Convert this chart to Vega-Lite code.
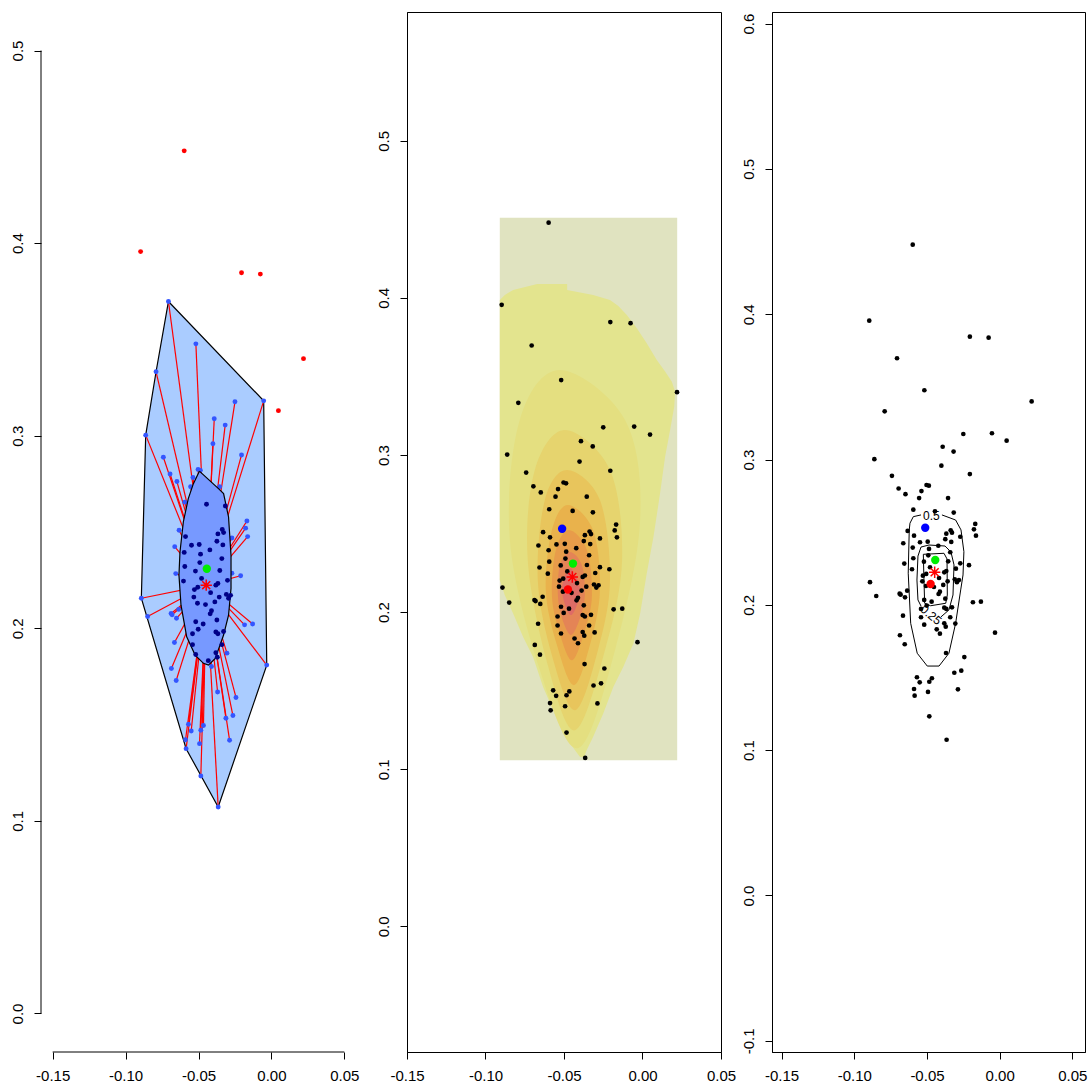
{
  "$schema": "https://vega.github.io/schema/vega-lite/v6.json",
  "padding": {"left": 10, "top": 11, "right": 0, "bottom": 0},
  "bounds": "flush",
  "spacing": 51,
  "config": {
    "font": "Liberation Sans",
    "view": {"stroke": "black", "strokeWidth": 1},
    "axis": {"grid": false, "title": null, "labelFont": "Liberation Sans Narrow, Liberation Sans", "labelFontSize": 15, "labelColor": "black", "tickColor": "black", "domainColor": "black", "tickSize": 7, "labelPadding": 9, "labelOverlap": false, "labelFlush": false}
  },
  "datasets": {
    "pts": [
      {"x": -0.0598, "y": 0.4479, "g": "o"}, {"x": -0.0897, "y": 0.3956, "g": "o"}, {"x": -0.0205, "y": 0.3846, "g": "o"}, {"x": -0.0076, "y": 0.3839, "g": "o"}, {"x": 0.0220, "y": 0.3400, "g": "o"}, {"x": 0.0048, "y": 0.3130, "g": "o"},
      {"x": -0.0706, "y": 0.3697, "g": "l"}, {"x": -0.0518, "y": 0.3477, "g": "l"}, {"x": -0.0791, "y": 0.3332, "g": "l"}, {"x": -0.0250, "y": 0.3176, "g": "l"}, {"x": -0.0053, "y": 0.3181, "g": "l"}, {"x": -0.0392, "y": 0.3088, "g": "l"},
      {"x": -0.0317, "y": 0.3055, "g": "l"}, {"x": -0.0862, "y": 0.3003, "g": "l"}, {"x": -0.0401, "y": 0.2958, "g": "l"}, {"x": -0.0205, "y": 0.2900, "g": "l"}, {"x": -0.0741, "y": 0.2888, "g": "l"}, {"x": -0.0695, "y": 0.2801, "g": "l"},
      {"x": -0.0503, "y": 0.2825, "g": "l"}, {"x": -0.0487, "y": 0.2820, "g": "l"}, {"x": -0.0648, "y": 0.2762, "g": "l"}, {"x": -0.0538, "y": 0.2783, "g": "l"}, {"x": -0.0554, "y": 0.2735, "g": "l"}, {"x": -0.0355, "y": 0.2735, "g": "l"},
      {"x": -0.0594, "y": 0.2655, "g": "l"}, {"x": -0.0168, "y": 0.2557, "g": "l"}, {"x": -0.0633, "y": 0.2509, "g": "l"}, {"x": -0.0177, "y": 0.2520, "g": "l"}, {"x": -0.0271, "y": 0.2469, "g": "l"}, {"x": -0.0163, "y": 0.2476, "g": "l"},
      {"x": -0.0663, "y": 0.2424, "g": "l"}, {"x": -0.0656, "y": 0.2284, "g": "l"}, {"x": -0.0271, "y": 0.2286, "g": "l"}, {"x": -0.0211, "y": 0.2273, "g": "l"}, {"x": -0.0892, "y": 0.2156, "g": "l"}, {"x": -0.0688, "y": 0.2077, "g": "l"},
      {"x": -0.0681, "y": 0.2070, "g": "l"}, {"x": -0.0636, "y": 0.2098, "g": "l"}, {"x": -0.0849, "y": 0.2061, "g": "l"}, {"x": -0.0651, "y": 0.2052, "g": "l"}, {"x": -0.0184, "y": 0.2018, "g": "l"}, {"x": -0.0129, "y": 0.2022, "g": "l"},
      {"x": -0.0665, "y": 0.1926, "g": "l"}, {"x": -0.0305, "y": 0.1871, "g": "l"}, {"x": -0.0686, "y": 0.1791, "g": "l"}, {"x": -0.0411, "y": 0.1802, "g": "l"}, {"x": -0.0032, "y": 0.1809, "g": "l"}, {"x": -0.0653, "y": 0.1729, "g": "l"},
      {"x": -0.0369, "y": 0.1669, "g": "l"}, {"x": -0.0243, "y": 0.1641, "g": "l"}, {"x": -0.0569, "y": 0.1502, "g": "l"}, {"x": -0.0550, "y": 0.1467, "g": "l"}, {"x": -0.0484, "y": 0.1471, "g": "l"}, {"x": -0.0466, "y": 0.1495, "g": "l"},
      {"x": -0.0312, "y": 0.1533, "g": "l"}, {"x": -0.0264, "y": 0.1547, "g": "l"}, {"x": -0.0589, "y": 0.1421, "g": "l"}, {"x": -0.0493, "y": 0.1401, "g": "l"}, {"x": -0.0287, "y": 0.1419, "g": "l"}, {"x": -0.0585, "y": 0.1375, "g": "l"},
      {"x": -0.0484, "y": 0.1233, "g": "l"}, {"x": -0.0365, "y": 0.1072, "g": "l"},
      {"x": -0.0445, "y": 0.2644, "g": "b"}, {"x": -0.0316, "y": 0.2635, "g": "b"}, {"x": -0.0337, "y": 0.2513, "g": "b"}, {"x": -0.0328, "y": 0.2497, "g": "b"}, {"x": -0.0367, "y": 0.2490, "g": "b"}, {"x": -0.0589, "y": 0.2476, "g": "b"},
      {"x": -0.0374, "y": 0.2452, "g": "b"}, {"x": -0.0333, "y": 0.2433, "g": "b"}, {"x": -0.0548, "y": 0.2431, "g": "b"}, {"x": -0.0495, "y": 0.2435, "g": "b"}, {"x": -0.0422, "y": 0.2407, "g": "b"}, {"x": -0.0598, "y": 0.2394, "g": "b"},
      {"x": -0.0486, "y": 0.2385, "g": "b"}, {"x": -0.0340, "y": 0.2362, "g": "b"}, {"x": -0.0491, "y": 0.2341, "g": "b"}, {"x": -0.0521, "y": 0.2297, "g": "b"}, {"x": -0.0354, "y": 0.2300, "g": "b"}, {"x": -0.0594, "y": 0.2321, "g": "b"},
      {"x": -0.0479, "y": 0.2259, "g": "b"}, {"x": -0.0603, "y": 0.2245, "g": "b"}, {"x": -0.0301, "y": 0.2249, "g": "b"}, {"x": -0.0367, "y": 0.2233, "g": "b"}, {"x": -0.0381, "y": 0.2224, "g": "b"}, {"x": -0.0505, "y": 0.2213, "g": "b"},
      {"x": -0.0528, "y": 0.2201, "g": "b"}, {"x": -0.0417, "y": 0.2185, "g": "b"}, {"x": -0.0309, "y": 0.2176, "g": "b"}, {"x": -0.0280, "y": 0.2171, "g": "b"}, {"x": -0.0532, "y": 0.2162, "g": "b"}, {"x": -0.0358, "y": 0.2162, "g": "b"},
      {"x": -0.0294, "y": 0.2156, "g": "b"}, {"x": -0.0507, "y": 0.2130, "g": "b"}, {"x": -0.0388, "y": 0.2137, "g": "b"}, {"x": -0.0452, "y": 0.2123, "g": "b"}, {"x": -0.0411, "y": 0.2091, "g": "b"}, {"x": -0.0420, "y": 0.2075, "g": "b"},
      {"x": -0.0468, "y": 0.2022, "g": "b"}, {"x": -0.0374, "y": 0.2043, "g": "b"}, {"x": -0.0519, "y": 0.2034, "g": "b"}, {"x": -0.0541, "y": 0.1972, "g": "b"}, {"x": -0.0381, "y": 0.1981, "g": "b"}, {"x": -0.0367, "y": 0.1972, "g": "b"},
      {"x": -0.0328, "y": 0.1983, "g": "b"}, {"x": -0.0502, "y": 0.1995, "g": "b"}, {"x": -0.0541, "y": 0.1915, "g": "b"}, {"x": -0.0340, "y": 0.1915, "g": "b"}, {"x": -0.0381, "y": 0.1873, "g": "b"}, {"x": -0.0519, "y": 0.1864, "g": "b"},
      {"x": -0.0371, "y": 0.1850, "g": "b"}, {"x": -0.0433, "y": 0.1832, "g": "b"}
    ],
    "loopPoly": [
      {"i": 0, "x": -0.0706, "y": 0.3697}, {"i": 1, "x": -0.0053, "y": 0.3181}, {"i": 2, "x": -0.0032, "y": 0.1809}, {"i": 3, "x": -0.0365, "y": 0.1072},
      {"i": 4, "x": -0.0585, "y": 0.1375}, {"i": 5, "x": -0.0892, "y": 0.2156}, {"i": 6, "x": -0.0862, "y": 0.3003}, {"i": 7, "x": -0.0791, "y": 0.3332}, {"i": 8, "x": -0.0706, "y": 0.3697}
    ],
    "bagPoly": [
      {"i": 0, "x": -0.0494, "y": 0.2816}, {"i": 1, "x": -0.0363, "y": 0.2725}, {"i": 2, "x": -0.0328, "y": 0.2699}, {"i": 3, "x": -0.0294, "y": 0.2578},
      {"i": 4, "x": -0.0277, "y": 0.2379}, {"i": 5, "x": -0.0277, "y": 0.2207}, {"i": 6, "x": -0.0294, "y": 0.2068}, {"i": 7, "x": -0.0328, "y": 0.1965},
      {"i": 8, "x": -0.0385, "y": 0.1844}, {"i": 9, "x": -0.0432, "y": 0.1809}, {"i": 10, "x": -0.0466, "y": 0.1818}, {"i": 11, "x": -0.0523, "y": 0.1861},
      {"i": 12, "x": -0.0581, "y": 0.1956}, {"i": 13, "x": -0.0620, "y": 0.2120}, {"i": 14, "x": -0.0634, "y": 0.2276}, {"i": 15, "x": -0.0627, "y": 0.2396},
      {"i": 16, "x": -0.0604, "y": 0.2552}, {"i": 17, "x": -0.0570, "y": 0.2673}, {"i": 18, "x": -0.0535, "y": 0.2751}, {"i": 19, "x": -0.0494, "y": 0.2816}
    ],
    "fence": [
      {"i": 0, "x": -0.0909, "y": 0.3987}, {"i": 1, "x": -0.0877, "y": 0.4019}, {"i": 2, "x": -0.0824, "y": 0.4051}, {"i": 3, "x": -0.0671, "y": 0.4089},
      {"i": 4, "x": -0.0480, "y": 0.4089}, {"i": 5, "x": -0.0480, "y": 0.4051}, {"i": 6, "x": -0.0314, "y": 0.4019}, {"i": 7, "x": -0.0207, "y": 0.3987},
      {"i": 8, "x": -0.0154, "y": 0.3949}, {"i": 9, "x": -0.0100, "y": 0.3892}, {"i": 10, "x": -0.0036, "y": 0.3807}, {"i": 11, "x": 0.0027, "y": 0.3711},
      {"i": 12, "x": 0.0091, "y": 0.3605}, {"i": 13, "x": 0.0144, "y": 0.3531}, {"i": 14, "x": 0.0187, "y": 0.3467}, {"i": 15, "x": 0.0208, "y": 0.3403},
      {"i": 16, "x": 0.0202, "y": 0.3308}, {"i": 17, "x": 0.0176, "y": 0.3159}, {"i": 18, "x": 0.0144, "y": 0.2989}, {"i": 19, "x": 0.0112, "y": 0.2756},
      {"i": 20, "x": 0.0070, "y": 0.2480}, {"i": 21, "x": 0.0027, "y": 0.2246}, {"i": 22, "x": -0.0015, "y": 0.1992}, {"i": 23, "x": -0.0058, "y": 0.1801},
      {"i": 24, "x": -0.0122, "y": 0.1652}, {"i": 25, "x": -0.0186, "y": 0.1524}, {"i": 26, "x": -0.0250, "y": 0.1355}, {"i": 27, "x": -0.0314, "y": 0.1206},
      {"i": 28, "x": -0.0356, "y": 0.1121}, {"i": 29, "x": -0.0371, "y": 0.1078}, {"i": 30, "x": -0.0398, "y": 0.1078}, {"i": 31, "x": -0.0430, "y": 0.1121},
      {"i": 32, "x": -0.0505, "y": 0.1227}, {"i": 33, "x": -0.0569, "y": 0.1376}, {"i": 34, "x": -0.0633, "y": 0.1524}, {"i": 35, "x": -0.0697, "y": 0.1715},
      {"i": 36, "x": -0.0761, "y": 0.1843}, {"i": 37, "x": -0.0824, "y": 0.1992}, {"i": 38, "x": -0.0877, "y": 0.2108}, {"i": 39, "x": -0.0909, "y": 0.2204}
    ],
    "bands": [
      {"b": "b1", "i": 0, "x": -0.0526, "y": 0.3541}, {"b": "b1", "i": 1, "x": -0.0111, "y": 0.3223}, {"b": "b1", "i": 2, "x": -0.0015, "y": 0.2586}, {"b": "b1", "i": 3, "x": -0.0175, "y": 0.1758},
      {"b": "b1", "i": 4, "x": -0.0411, "y": 0.1134}, {"b": "b1", "i": 5, "x": -0.0654, "y": 0.1631}, {"b": "b1", "i": 6, "x": -0.0845, "y": 0.2459}, {"b": "b1", "i": 7, "x": -0.0782, "y": 0.3223},
      {"b": "b2", "i": 0, "x": -0.0494, "y": 0.3159}, {"b": "b2", "i": 1, "x": -0.0207, "y": 0.2904}, {"b": "b2", "i": 2, "x": -0.0130, "y": 0.2331}, {"b": "b2", "i": 3, "x": -0.0239, "y": 0.1758},
      {"b": "b2", "i": 4, "x": -0.0430, "y": 0.1248}, {"b": "b2", "i": 5, "x": -0.0603, "y": 0.1662}, {"b": "b2", "i": 6, "x": -0.0731, "y": 0.2331}, {"b": "b2", "i": 7, "x": -0.0686, "y": 0.2904},
      {"b": "b3", "i": 0, "x": -0.0481, "y": 0.2904}, {"b": "b3", "i": 1, "x": -0.0271, "y": 0.2713}, {"b": "b3", "i": 2, "x": -0.0207, "y": 0.2204}, {"b": "b3", "i": 3, "x": -0.0284, "y": 0.1758},
      {"b": "b3", "i": 4, "x": -0.0430, "y": 0.1376}, {"b": "b3", "i": 5, "x": -0.0577, "y": 0.1726}, {"b": "b3", "i": 6, "x": -0.0667, "y": 0.2204}, {"b": "b3", "i": 7, "x": -0.0622, "y": 0.2713},
      {"b": "b4", "i": 0, "x": -0.0475, "y": 0.2682}, {"b": "b4", "i": 1, "x": -0.0315, "y": 0.2522}, {"b": "b4", "i": 2, "x": -0.0271, "y": 0.2140}, {"b": "b4", "i": 3, "x": -0.0335, "y": 0.1790},
      {"b": "b4", "i": 4, "x": -0.0437, "y": 0.1535}, {"b": "b4", "i": 5, "x": -0.0545, "y": 0.1790}, {"b": "b4", "i": 6, "x": -0.0616, "y": 0.2140}, {"b": "b4", "i": 7, "x": -0.0577, "y": 0.2522},
      {"b": "b5", "i": 0, "x": -0.0469, "y": 0.2522}, {"b": "b5", "i": 1, "x": -0.0354, "y": 0.2395}, {"b": "b5", "i": 2, "x": -0.0322, "y": 0.2108}, {"b": "b5", "i": 3, "x": -0.0367, "y": 0.1885},
      {"b": "b5", "i": 4, "x": -0.0450, "y": 0.1694}, {"b": "b5", "i": 5, "x": -0.0533, "y": 0.1885}, {"b": "b5", "i": 6, "x": -0.0577, "y": 0.2108}, {"b": "b5", "i": 7, "x": -0.0552, "y": 0.2395},
      {"b": "b6", "i": 0, "x": -0.0463, "y": 0.2382}, {"b": "b6", "i": 1, "x": -0.0386, "y": 0.2299}, {"b": "b6", "i": 2, "x": -0.0367, "y": 0.2108}, {"b": "b6", "i": 3, "x": -0.0398, "y": 0.1962},
      {"b": "b6", "i": 4, "x": -0.0456, "y": 0.1854}, {"b": "b6", "i": 5, "x": -0.0513, "y": 0.1962}, {"b": "b6", "i": 6, "x": -0.0539, "y": 0.2108}, {"b": "b6", "i": 7, "x": -0.0526, "y": 0.2299},
      {"b": "b7", "i": 0, "x": -0.0463, "y": 0.2280}, {"b": "b7", "i": 1, "x": -0.0398, "y": 0.2140}, {"b": "b7", "i": 2, "x": -0.0456, "y": 0.1981}, {"b": "b7", "i": 3, "x": -0.0513, "y": 0.2140}
    ],
    "contours": [
      {"c": "c1", "i": 0, "x": -0.0397, "y": 0.2619}, {"c": "c1", "i": 1, "x": -0.0303, "y": 0.2584}, {"c": "c1", "i": 2, "x": -0.0266, "y": 0.2516}, {"c": "c1", "i": 3, "x": -0.0246, "y": 0.2366},
      {"c": "c1", "i": 4, "x": -0.0252, "y": 0.2206}, {"c": "c1", "i": 5, "x": -0.0268, "y": 0.2103}, {"c": "c1", "i": 6, "x": -0.0303, "y": 0.1873}, {"c": "c1", "i": 7, "x": -0.0349, "y": 0.1667},
      {"c": "c1", "i": 8, "x": -0.0417, "y": 0.1579}, {"c": "c1", "i": 9, "x": -0.0498, "y": 0.1579}, {"c": "c1", "i": 10, "x": -0.0567, "y": 0.1667}, {"c": "c1", "i": 11, "x": -0.0612, "y": 0.1873},
      {"c": "c1", "i": 12, "x": -0.0629, "y": 0.2218}, {"c": "c1", "i": 13, "x": -0.0622, "y": 0.2515}, {"c": "c1", "i": 14, "x": -0.0617, "y": 0.2562}, {"c": "c1", "i": 15, "x": -0.0594, "y": 0.2607},
      {"c": "c1", "i": 16, "x": -0.0541, "y": 0.2619},
      {"c": "c2", "i": 0, "x": -0.0404, "y": 0.1917}, {"c": "c2", "i": 1, "x": -0.0349, "y": 0.1965}, {"c": "c2", "i": 2, "x": -0.0321, "y": 0.2068}, {"c": "c2", "i": 3, "x": -0.0314, "y": 0.2275},
      {"c": "c2", "i": 4, "x": -0.0335, "y": 0.2364}, {"c": "c2", "i": 5, "x": -0.0376, "y": 0.2405}, {"c": "c2", "i": 6, "x": -0.0486, "y": 0.2412}, {"c": "c2", "i": 7, "x": -0.0541, "y": 0.2398},
      {"c": "c2", "i": 8, "x": -0.0562, "y": 0.2336}, {"c": "c2", "i": 9, "x": -0.0569, "y": 0.2171}, {"c": "c2", "i": 10, "x": -0.0562, "y": 0.2034}, {"c": "c2", "i": 11, "x": -0.0541, "y": 0.1992},
      {"c": "c3", "i": 0, "x": -0.0525, "y": 0.2348}, {"c": "c3", "i": 1, "x": -0.0383, "y": 0.2355}, {"c": "c3", "i": 2, "x": -0.0362, "y": 0.2316}, {"c": "c3", "i": 3, "x": -0.0360, "y": 0.2068},
      {"c": "c3", "i": 4, "x": -0.0371, "y": 0.2011}, {"c": "c3", "i": 5, "x": -0.0475, "y": 0.1994}, {"c": "c3", "i": 6, "x": -0.0516, "y": 0.2011}, {"c": "c3", "i": 7, "x": -0.0521, "y": 0.2183},
      {"c": "c3", "i": 8, "x": -0.0525, "y": 0.2348}
    ],
    "clabels": [
      {"x": -0.0470, "y": 0.2612, "t": "0.5", "a": 0},
      {"x": -0.0473, "y": 0.1930, "t": "0.25", "a": 40}
    ],
    "ctr": [
      {"k": "blue", "x": -0.0512, "y": 0.2531},
      {"k": "green", "x": -0.0443, "y": 0.2309},
      {"k": "reddot", "x": -0.0475, "y": 0.2144},
      {"k": "star", "x": -0.0447, "y": 0.2224}
    ]
  },
  "hconcat": [
    {
      "width": 315,
      "height": 1040,
      "view": {"stroke": null},
      "layer": [
        {
          "data": {"name": "loopPoly"},
          "mark": {"type": "line", "fill": "#aaccff", "stroke": "black", "strokeWidth": 1.2},
          "encoding": {
            "x": {"field": "x", "type": "quantitative", "scale": {"domain": [-0.158, 0.058], "nice": false, "zero": false}, "axis": {"domain": false, "values": [-0.15, -0.1, -0.05, 0, 0.05], "labelExpr": "replace(format(datum.value, '.2f'), '\u2212', '-')"}},
            "y": {"field": "y", "type": "quantitative", "scale": {"domain": [-0.02, 0.52], "nice": false, "zero": false}, "axis": {"domain": false, "values": [0, 0.1, 0.2, 0.3, 0.4, 0.5], "format": ".1f", "labelAngle": -90, "labelAlign": "center", "labelBaseline": "bottom"}},
            "order": {"field": "i", "type": "quantitative"}
          }
        },
        {
          "data": {"name": "pts"},
          "transform": [{"filter": "datum.g == 'l'"}],
          "mark": {"type": "rule", "color": "red", "strokeWidth": 1.2},
          "encoding": {
            "x": {"field": "x", "type": "quantitative"},
            "y": {"field": "y", "type": "quantitative"},
            "x2": {"datum": -0.0447},
            "y2": {"datum": 0.2224}
          }
        },
        {
          "data": {"name": "pts"},
          "transform": [{"filter": "datum.g == 'l'"}],
          "mark": {"type": "point", "filled": true, "color": "#3355ff", "opacity": 1, "size": 24},
          "encoding": {"x": {"field": "x", "type": "quantitative"}, "y": {"field": "y", "type": "quantitative"}}
        },
        {
          "data": {"name": "bagPoly"},
          "mark": {"type": "line", "fill": "#7799ff", "stroke": "black", "strokeWidth": 1.2},
          "encoding": {"x": {"field": "x", "type": "quantitative"}, "y": {"field": "y", "type": "quantitative"}, "order": {"field": "i", "type": "quantitative"}}
        },
        {
          "data": {"name": "pts"},
          "transform": [{"filter": "datum.g == 'b'"}],
          "mark": {"type": "point", "filled": true, "color": "#000088", "opacity": 1, "size": 24},
          "encoding": {"x": {"field": "x", "type": "quantitative"}, "y": {"field": "y", "type": "quantitative"}}
        },
        {
          "data": {"name": "pts"},
          "transform": [{"filter": "datum.g == 'o'"}],
          "mark": {"type": "point", "filled": true, "color": "red", "opacity": 1, "size": 24},
          "encoding": {"x": {"field": "x", "type": "quantitative"}, "y": {"field": "y", "type": "quantitative"}}
        },
        {
          "data": {"name": "ctr"},
          "transform": [{"filter": "datum.k == 'green'"}],
          "mark": {"type": "point", "filled": true, "color": "#00ee00", "opacity": 1, "size": 70},
          "encoding": {"x": {"field": "x", "type": "quantitative"}, "y": {"field": "y", "type": "quantitative"}}
        },
        {
          "data": {"name": "ctr"},
          "transform": [{"filter": "datum.k == 'star'"}],
          "mark": {"type": "point", "filled": false, "shape": "M-1,0L1,0M0,-1L0,1M-0.7,-0.7L0.7,0.7M-0.7,0.7L0.7,-0.7", "color": "red", "opacity": 1, "size": 130, "strokeWidth": 1.5},
          "encoding": {"x": {"field": "x", "type": "quantitative"}, "y": {"field": "y", "type": "quantitative"}}
        },
        {
          "data": {"values": [{}]},
          "mark": {"type": "rule", "color": "black", "strokeWidth": 1},
          "encoding": {"x": {"datum": -0.15}, "x2": {"datum": 0.05}, "y": {"datum": -0.02}}
        },
        {
          "data": {"values": [{}]},
          "mark": {"type": "rule", "color": "black", "strokeWidth": 1},
          "encoding": {"y": {"datum": 0}, "y2": {"datum": 0.5}, "x": {"datum": -0.158}}
        }
      ]
    },
    {
      "width": 314,
      "height": 1040,
      "layer": [
        {
          "data": {"values": [{"x1": -0.0909, "x2": 0.0221, "y1": 0.1057, "y2": 0.4510}]},
          "mark": {"type": "rect", "color": "#e0e3c0"},
          "encoding": {
            "x": {"field": "x1", "type": "quantitative", "scale": {"domain": [-0.15, 0.05], "nice": false, "zero": false}, "axis": {"values": [-0.15, -0.1, -0.05, 0, 0.05], "labelExpr": "replace(format(datum.value, '.2f'), '\u2212', '-')"}},
            "x2": {"field": "x2"},
            "y": {"field": "y1", "type": "quantitative", "scale": {"domain": [-0.080, 0.582], "nice": false, "zero": false}, "axis": {"values": [0, 0.1, 0.2, 0.3, 0.4, 0.5], "format": ".1f", "labelAngle": -90, "labelAlign": "center", "labelBaseline": "bottom"}},
            "y2": {"field": "y2"}
          }
        },
        {
          "data": {"name": "fence"},
          "mark": {"type": "line", "fill": "#e3e48e", "stroke": null},
          "encoding": {"x": {"field": "x", "type": "quantitative"}, "y": {"field": "y", "type": "quantitative"}, "order": {"field": "i", "type": "quantitative"}}
        },
        {
          "data": {"name": "bands"},
          "transform": [{"filter": "datum.b == 'b1'"}],
          "mark": {"type": "line", "fill": "#e4df80", "stroke": null, "interpolate": "cardinal-closed"},
          "encoding": {"x": {"field": "x", "type": "quantitative"}, "y": {"field": "y", "type": "quantitative"}, "order": {"field": "i", "type": "quantitative"}}
        },
        {
          "data": {"name": "bands"},
          "transform": [{"filter": "datum.b == 'b2'"}],
          "mark": {"type": "line", "fill": "#e6d46e", "stroke": null, "interpolate": "cardinal-closed"},
          "encoding": {"x": {"field": "x", "type": "quantitative"}, "y": {"field": "y", "type": "quantitative"}, "order": {"field": "i", "type": "quantitative"}}
        },
        {
          "data": {"name": "bands"},
          "transform": [{"filter": "datum.b == 'b3'"}],
          "mark": {"type": "line", "fill": "#e8c55c", "stroke": null, "interpolate": "cardinal-closed"},
          "encoding": {"x": {"field": "x", "type": "quantitative"}, "y": {"field": "y", "type": "quantitative"}, "order": {"field": "i", "type": "quantitative"}}
        },
        {
          "data": {"name": "bands"},
          "transform": [{"filter": "datum.b == 'b4'"}],
          "mark": {"type": "line", "fill": "#e9b24c", "stroke": null, "interpolate": "cardinal-closed"},
          "encoding": {"x": {"field": "x", "type": "quantitative"}, "y": {"field": "y", "type": "quantitative"}, "order": {"field": "i", "type": "quantitative"}}
        },
        {
          "data": {"name": "bands"},
          "transform": [{"filter": "datum.b == 'b5'"}],
          "mark": {"type": "line", "fill": "#e89c4a", "stroke": null, "interpolate": "cardinal-closed"},
          "encoding": {"x": {"field": "x", "type": "quantitative"}, "y": {"field": "y", "type": "quantitative"}, "order": {"field": "i", "type": "quantitative"}}
        },
        {
          "data": {"name": "bands"},
          "transform": [{"filter": "datum.b == 'b6'"}],
          "mark": {"type": "line", "fill": "#e48456", "stroke": null, "interpolate": "cardinal-closed"},
          "encoding": {"x": {"field": "x", "type": "quantitative"}, "y": {"field": "y", "type": "quantitative"}, "order": {"field": "i", "type": "quantitative"}}
        },
        {
          "data": {"name": "bands"},
          "transform": [{"filter": "datum.b == 'b7'"}],
          "mark": {"type": "line", "fill": "#de6c66", "stroke": null, "interpolate": "cardinal-closed"},
          "encoding": {"x": {"field": "x", "type": "quantitative"}, "y": {"field": "y", "type": "quantitative"}, "order": {"field": "i", "type": "quantitative"}}
        },
        {
          "data": {"name": "pts"},
          "mark": {"type": "point", "filled": true, "color": "black", "opacity": 1, "size": 22},
          "encoding": {"x": {"field": "x", "type": "quantitative"}, "y": {"field": "y", "type": "quantitative"}}
        },
        {
          "data": {"name": "ctr"},
          "transform": [{"filter": "datum.k != 'star'"}],
          "mark": {"type": "point", "filled": true, "opacity": 1, "size": 70},
          "encoding": {
            "x": {"field": "x", "type": "quantitative"}, "y": {"field": "y", "type": "quantitative"},
            "color": {"field": "k", "type": "nominal", "scale": {"domain": ["blue", "green", "reddot"], "range": ["#0000ff", "#00ee00", "#ff0000"]}, "legend": null}
          }
        },
        {
          "data": {"name": "ctr"},
          "transform": [{"filter": "datum.k == 'star'"}],
          "mark": {"type": "point", "filled": false, "shape": "M-1,0L1,0M0,-1L0,1M-0.7,-0.7L0.7,0.7M-0.7,0.7L0.7,-0.7", "color": "red", "opacity": 1, "size": 130, "strokeWidth": 1.5},
          "encoding": {"x": {"field": "x", "type": "quantitative"}, "y": {"field": "y", "type": "quantitative"}}
        }
      ]
    },
    {
      "width": 313,
      "height": 1040,
      "layer": [
        {
          "data": {"name": "pts"},
          "mark": {"type": "point", "filled": true, "color": "black", "opacity": 1, "size": 22},
          "encoding": {
            "x": {"field": "x", "type": "quantitative", "scale": {"domain": [-0.1566, 0.0587], "nice": false, "zero": false}, "axis": {"values": [-0.15, -0.1, -0.05, 0, 0.05], "labelExpr": "replace(format(datum.value, '.2f'), '\u2212', '-')"}},
            "y": {"field": "y", "type": "quantitative", "scale": {"domain": [-0.1077, 0.608], "nice": false, "zero": false}, "axis": {"values": [-0.1, 0, 0.1, 0.2, 0.3, 0.4, 0.5, 0.6], "labelExpr": "replace(format(datum.value, '.1f'), '\u2212', '-')", "labelAngle": -90, "labelAlign": "center", "labelBaseline": "bottom"}}
          }
        },
        {
          "data": {"name": "contours"},
          "mark": {"type": "line", "color": "black", "strokeWidth": 1},
          "encoding": {"x": {"field": "x", "type": "quantitative"}, "y": {"field": "y", "type": "quantitative"}, "detail": {"field": "c"}, "order": {"field": "i", "type": "quantitative"}}
        },
        {
          "data": {"name": "clabels"},
          "mark": {"type": "text", "fontSize": 12, "color": "black", "align": "center", "baseline": "middle"},
          "encoding": {"x": {"field": "x", "type": "quantitative"}, "y": {"field": "y", "type": "quantitative"}, "text": {"field": "t"}, "angle": {"field": "a", "type": "quantitative", "scale": null}}
        },
        {
          "data": {"name": "ctr"},
          "transform": [{"filter": "datum.k != 'star'"}],
          "mark": {"type": "point", "filled": true, "opacity": 1, "size": 70},
          "encoding": {
            "x": {"field": "x", "type": "quantitative"}, "y": {"field": "y", "type": "quantitative"},
            "color": {"field": "k", "type": "nominal", "scale": {"domain": ["blue", "green", "reddot"], "range": ["#0000ff", "#00ee00", "#ff0000"]}, "legend": null}
          }
        },
        {
          "data": {"name": "ctr"},
          "transform": [{"filter": "datum.k == 'star'"}],
          "mark": {"type": "point", "filled": false, "shape": "M-1,0L1,0M0,-1L0,1M-0.7,-0.7L0.7,0.7M-0.7,0.7L0.7,-0.7", "color": "red", "opacity": 1, "size": 130, "strokeWidth": 1.5},
          "encoding": {"x": {"field": "x", "type": "quantitative"}, "y": {"field": "y", "type": "quantitative"}}
        }
      ]
    }
  ]
}
